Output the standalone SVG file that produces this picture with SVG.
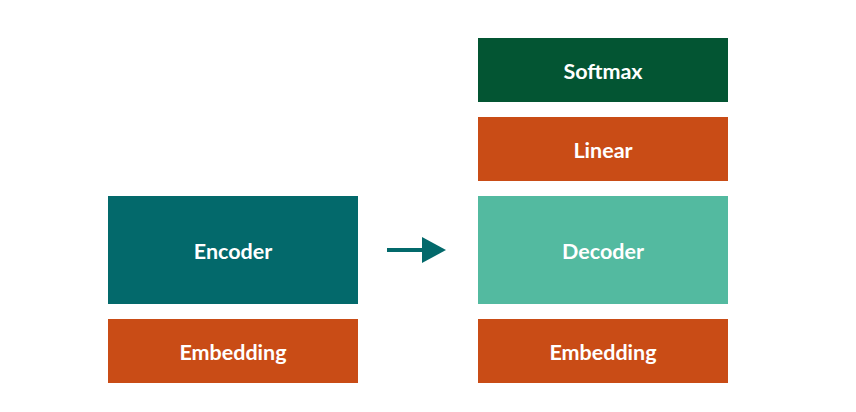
<svg xmlns="http://www.w3.org/2000/svg" width="856" height="412" viewBox="0 0 856 412">
<style>
text{font-family:Lato,"Open Sans",sans-serif;font-weight:bold;font-size:21.5px;fill:#ffffff;text-anchor:middle;dominant-baseline:central}
.emb{fill:#C94C16}
</style>
<rect width="856" height="412" fill="#ffffff"/>
<g id="encoder"><rect x="108" y="196" width="250" height="108" fill="#03696B"/><text x="233" y="251">Encoder</text></g>
<g id="embedding-left"><rect class="emb" x="108" y="319" width="250" height="64"/><text x="233" y="352">Embedding</text></g>
<g id="softmax"><rect x="478" y="38" width="250" height="64" fill="#035533"/><text x="603" y="71">Softmax</text></g>
<g id="linear"><rect class="emb" x="478" y="117" width="250" height="64"/><text x="603" y="150">Linear</text></g>
<g id="decoder"><rect x="478" y="196" width="250" height="108" fill="#53BAA0"/><text x="603" y="251">Decoder</text></g>
<g id="embedding-right"><rect class="emb" x="478" y="319" width="250" height="64"/><text x="603" y="352">Embedding</text></g>
<g id="connectors">
<line x1="387" y1="250" x2="423" y2="250" stroke="#03696B" stroke-width="4"/>
<polygon points="422,237 446,250 422,263" fill="#03696B"/>
</g>
</svg>
